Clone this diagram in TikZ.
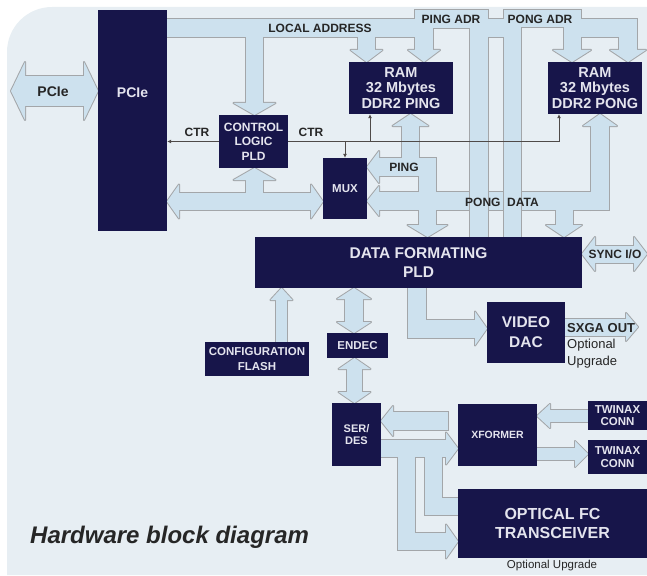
\documentclass[tikz,border=0pt]{standalone}
\usepackage{fontspec}
\setmainfont{Liberation Sans}
\usetikzlibrary{arrows.meta,backgrounds,positioning}
\definecolor{panel}{HTML}{E7EEF3}
\definecolor{navy}{HTML}{17154A}
\definecolor{busfill}{HTML}{CDE1EE}
\definecolor{busline}{HTML}{A3A6A9}
\definecolor{ctrcol}{HTML}{4F4A48}
\definecolor{labcol}{HTML}{262626}
\definecolor{blocktext}{HTML}{E4E4EE}

\tikzset{
  busedge/.style={draw=busline, line width=#1pt+2pt, shorten <=-1pt, shorten >=-1pt},
  buscore/.style={draw=busfill, line width=#1pt},
  busedgehead/.style={fill=busline, draw=busline, line width=2pt, line join=round},
  buscorehead/.style={fill=busfill},
  block/.style={fill=navy, text=blocktext, align=center, inner sep=0pt},
  btext/.style={text=blocktext, align=center, inner sep=0pt},
  lab/.style={text=labcol, font=\bfseries\fontsize{12}{14}\selectfont, inner sep=0pt},
  ctr/.style={draw=ctrcol, line width=0.9pt, -{Latex[length=4pt,width=4pt]}},
}

% tip, direction, half width, length
\newcommand{\bushead}[5]{\path[#1,shift={(#2)},rotate=#3] (0,0) -- (-#5,#4) -- (-#5,-#4) -- cycle;}

\newcommand{\datanet}[2]{%
  %PCIe <-> MUX
  \draw[#1=17] (177,201.5) -- (313,201.5);
  \draw[#1=17] (254.5,201.5) -- (254.5,178);
  \bushead{#2}{167,201.5}{180}{17}{12}
  \bushead{#2}{323,201.5}{0}{17}{12}
  \bushead{#2}{254.5,168}{90}{21}{12}
  %PING data
  \draw[#1=18] (377,167) -- (436,167);
  \draw[#1=17] (410.5,176) -- (410.5,124);
  \draw[#1=17] (427.5,158) -- (427.5,227);
  \bushead{#2}{367,167}{180}{16}{12}
  \bushead{#2}{410.5,114}{90}{18}{12}
  \bushead{#2}{427.5,237}{-90}{20}{12}
  %PONG data
  \draw[#1=18] (377,201) -- (609,201);
  \draw[#1=18] (600,210) -- (600,124);
  \draw[#1=17] (564,201) -- (564,227);
  \bushead{#2}{367,201}{180}{15}{12}
  \bushead{#2}{600,114}{90}{17}{12}
  \bushead{#2}{564,237}{-90}{18}{12}
  %Flash
  \draw[#1=11] (281.5,342) -- (281.5,298);
  \bushead{#2}{281.5,288}{90}{11}{12}
  %ENDEC
  \draw[#1=18] (354,297) -- (354,324);
  \bushead{#2}{354,288}{90}{17}{11}
  \bushead{#2}{354,333}{-90}{17}{11}
  \draw[#1=15] (354.5,368) -- (354.5,394);
  \bushead{#2}{354.5,358}{90}{16}{11}
  \bushead{#2}{354.5,403}{-90}{16}{11}
  %Video
  \draw[#1=18] (417,288) -- (417,328.5) -- (477,328.5);
  \bushead{#2}{487,328.5}{0}{17}{12}
  \draw[#1=17] (565,327) -- (628,327);
  \bushead{#2}{638,327}{0}{14}{12}
  %Sync
  \draw[#1=17] (594,254) -- (635,254);
  \bushead{#2}{582,254}{180}{17}{13}
  \bushead{#2}{647,254}{0}{17}{13}
  %PCIe outside
  \draw[#1=30] (23,91) -- (86,91);
  \bushead{#2}{11,91}{180}{29}{14}
  \bushead{#2}{98,91}{0}{29}{14}
  %SER/DES links
  \draw[#1=18] (448,421) -- (391,421);
  \bushead{#2}{381,421}{180}{15}{12}
  \draw[#1=17] (381,448.5) -- (448,448.5);
  \bushead{#2}{458,448.5}{0}{16}{12}
  \draw[#1=17] (406,448.5) -- (406,541.5) -- (448,541.5);
  \bushead{#2}{458,541.5}{0}{17}{12}
  \draw[#1=17] (433.5,448.5) -- (433.5,506.5) -- (458,506.5);
  %Twinax
  \draw[#1=12] (588,416) -- (549,416);
  \bushead{#2}{537,416}{180}{12}{13}
  \draw[#1=12] (537,454) -- (576,454);
  \bushead{#2}{588,454}{0}{13}{13}
}

\newcommand{\addrnet}[2]{%
  %Local address
  \draw[#1=18] (167,28) -- (424,28);
  \draw[#1=18] (478.5,28) -- (512.5,28);
  \draw[#1=18] (572,28) -- (628,28) -- (628,52);
  \draw[#1=17] (254.5,28) -- (254.5,105);
  \draw[#1=17] (366.5,28) -- (366.5,52);
  \bushead{#2}{628,62}{-90}{18}{12}
  \bushead{#2}{254.5,115}{-90}{21}{12}
  \bushead{#2}{366.5,62}{-90}{16}{12}
  %Ping address
  \draw[#1=18] (424,52) -- (424,19) -- (478.5,19) -- (478.5,237);
  \bushead{#2}{424,62}{-90}{16}{12}
  %Pong address
  \draw[#1=17] (512.5,237) -- (512.5,19) -- (572,19) -- (572,52);
  \bushead{#2}{572,62}{-90}{19}{12}
}

\begin{document}
\begin{tikzpicture}[x=1pt,y=-1pt]
\useasboundingbox (0,0) rectangle (647,575);

%Blocks
\node[block, minimum width=69pt, minimum height=221pt] (pcie) at (132.5,120.5) {};
\node[btext, font=\bfseries\fontsize{14}{16}\selectfont] (pcietext) at (132.5,93) {PCIe};
\node[block, minimum width=69pt, minimum height=53pt, font=\bfseries\fontsize{12}{14.5}\selectfont] (ctrl) at (253.5,141.5) {CONTROL\\LOGIC\\PLD};
\node[block, minimum width=104pt, minimum height=52pt, font=\bfseries\fontsize{14.5}{15.5}\selectfont] (ping) at (401,88) {RAM\\32 Mbytes\\DDR2 PING};
\node[block, minimum width=94pt, minimum height=52pt, font=\bfseries\fontsize{14.5}{15.5}\selectfont] (pong) at (595,88) {RAM\\32 Mbytes\\DDR2 PONG};
\node[block, minimum width=44pt, minimum height=61pt, font=\bfseries\fontsize{11.5}{13}\selectfont] (mux) at (345,188.5) {MUX};
\node[block, minimum width=327pt, minimum height=51pt, font=\bfseries\fontsize{15.5}{19}\selectfont] (dfpld) at (418.5,262.5) {DATA FORMATING\\PLD};
\node[block, minimum width=104pt, minimum height=34pt, font=\bfseries\fontsize{11.5}{15}\selectfont] (flash) at (257,359) {CONFIGURATION\\FLASH};
\node[block, minimum width=61pt, minimum height=25pt, font=\bfseries\fontsize{11.5}{13}\selectfont] (endec) at (357.5,345.5) {ENDEC};
\node[block, minimum width=78pt, minimum height=61pt, font=\bfseries\fontsize{15.5}{20}\selectfont] (dac) at (526,332.5) {VIDEO\\DAC};
\node[block, minimum width=49pt, minimum height=63pt, font=\bfseries\fontsize{11}{12}\selectfont] (serdes) at (356.5,434.5) {SER/\\DES};
\node[block, minimum width=79pt, minimum height=62pt, font=\bfseries\fontsize{10.5}{12}\selectfont] (xformer) at (497.5,435) {XFORMER};
\node[block, minimum width=59pt, minimum height=29pt, font=\bfseries\fontsize{11.5}{12.5}\selectfont] (twina) at (617.5,415.5) {TWINAX\\CONN};
\node[block, minimum width=59pt, minimum height=34pt, font=\bfseries\fontsize{11.5}{13.5}\selectfont] (twinb) at (617.5,457) {TWINAX\\CONN};
\node[block, minimum width=189pt, minimum height=69pt, font=\bfseries\fontsize{16}{18.5}\selectfont] (optical) at (552.5,523.5) {OPTICAL FC\\TRANSCEIVER};

%Panel and buses
\begin{scope}[on background layer]
\fill[panel] (7,52) arc[start angle=180, end angle=270, radius=45] -- (647,7) -- (647,575) -- (7,575) -- cycle;
\datanet{busedge}{busedgehead}
\datanet{buscore}{buscorehead}
\addrnet{busedge}{busedgehead}
\addrnet{buscore}{buscorehead}
\end{scope}

%Control lines
\coordinate (ctrping) at (370,141.5);
\coordinate (ctrend) at (559,141.5);
\draw[ctr] (ctrl.west) -- (ctrl.west -| pcie.east);
\draw[ctr] (ctrl.east) -- (ctrend) -- (ctrend |- pong.south);
\draw[ctr] (mux.north |- ctrl.east) -- (mux.north);
\draw[ctr] (ctrping) -- (ctrping |- ping.south);

%Labels
\node[lab] (ladr) at (320,28) {LOCAL ADDRESS};
\node[lab] (pingadr) at (451,19.5) {PING ADR};
\node[lab] (pongadr) at (540,19.5) {PONG ADR};
\node[lab] (ctrleft) at (197,132) {CTR};
\node[lab] (ctrright) at (311,132) {CTR};
\node[lab] (pinglab) at (404,167) {PING};
\node[lab] (pongdata) at (502,202) {PONG\ \ DATA};
\node[lab] (synclab) at (615,254) {SYNC I/O};
\node[lab, font=\bfseries\fontsize{14}{16}\selectfont] (pcieext) at (53,92) {PCIe};
\node[lab, anchor=west, align=left, font=\fontsize{13}{16.5}\selectfont] (sxga) at (567,345.5) {\textbf{SXGA OUT}\\Optional\\Upgrade};
\node[lab, font=\fontsize{11.5}{13}\selectfont] (optup) at (552,566) {Optional Upgrade};
\node[lab, anchor=west, font=\bfseries\itshape\fontsize{24}{28}\selectfont] (title) at (30,537) {Hardware block diagram};
\end{tikzpicture}
\end{document}
